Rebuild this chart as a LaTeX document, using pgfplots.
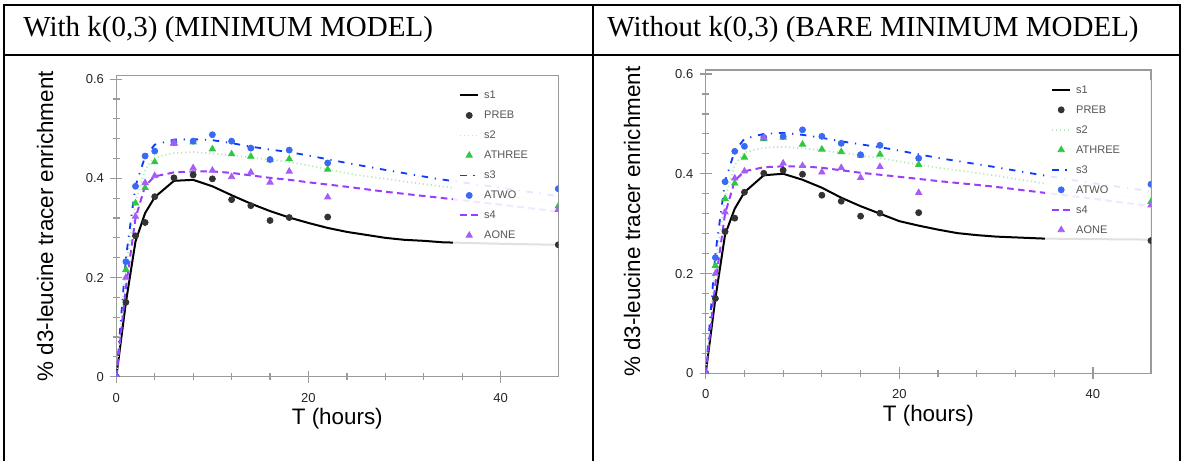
\documentclass[border=0pt]{standalone}
\usepackage{fontspec}
\setmainfont{Liberation Sans}
\newfontfamily\timesfont{Liberation Serif}
\usepackage{pgfplots}
\usepackage{pgfplotstable}
\pgfplotsset{compat=1.18}

\definecolor{axgray}{HTML}{9A9A9A}
\definecolor{prebc}{HTML}{333333}
\definecolor{s2c}{HTML}{B4ECB4}
\definecolor{athreec}{HTML}{2FC83F}
\definecolor{s3c}{HTML}{0A3AFF}
\definecolor{atwoc}{HTML}{3A6AF2}
\definecolor{s4c}{HTML}{9A3DFF}
\definecolor{aonec}{HTML}{A55EF5}
\definecolor{legtext}{HTML}{555555}

% measured points, same in both panels
\pgfplotstableread{
t  preb  atwo  athree aone
0  0     0     0      0
1  0.150 0.232 0.216  0.200
2  0.284 0.384 0.350  0.323
3  0.311 0.445 0.381  0.391
4  0.363 0.455 0.433  0.405
6  0.401 0.473 0.470  0.472
8  0.407 0.475 0.473  0.421
10 0.399 0.488 0.459  0.416
12 0.357 0.475 0.449  0.403
14 0.345 0.461 0.444  0.412
16 0.315 0.438 0.437  0.392
18 0.321 0.457 0.439  0.414
22 0.322 0.431 0.418  0.362
46 0.266 0.379 0.344  0.337
}\obs

\pgfplotsset{
  shortline/.style={legend image code/.code={\draw[##1] (0pt,0pt) -- (9pt,0pt);}},
  shortmark/.style={legend image code/.code={\draw[##1,mark repeat=2,mark phase=2] plot coordinates {(0pt,0pt) (4.5pt,0pt) (9pt,0pt)};}},
  s1/.style={black, line width=1pt, shortline},
  s2/.style={s2c, line width=0.9pt, dash pattern=on 0.6pt off 1.4pt, shortline},
  s3/.style={s3c, line width=0.9pt, dash pattern=on 3.2pt off 3.4pt on 0.6pt off 3.4pt, shortline},
  s4/.style={s4c, line width=1pt, dash pattern=on 3.3pt off 2.2pt, shortline},
  preb/.style={only marks, mark=*, mark size=1.5pt, prebc, shortmark},
  athree/.style={only marks, mark=triangle*, mark size=1.8pt, athreec, shortmark},
  atwo/.style={only marks, mark=*, mark size=1.5pt, atwoc, shortmark},
  aone/.style={only marks, mark=triangle*, mark size=1.8pt, aonec, shortmark},
  enrich/.style={
    scale only axis, anchor=south west,
    xmin=0, xmax=46, ymin=0,
    xtick={0,20,40}, ytick={0,0.2,0.4,0.6},
    minor x tick num=4, minor y tick num=4,
    tick pos=left, tick align=center,
    major tick length=6pt, minor tick length=3.4pt,
    axis line style={axgray, line width=0.6pt},
    tick style={axgray, line width=0.6pt},
    /pgf/number format/assume math mode=true,
    ticklabel style={font=\fontsize{6.5}{7}\selectfont, text=black!85},
    yticklabel style={inner sep=0pt, xshift=-3pt},
    xticklabel style={inner sep=0pt, yshift=-5pt},
    label style={font=\fontsize{11.2}{13}\selectfont},
    xlabel={T (hours)},
    ylabel={\% d3-leucine tracer enrichment},
    clip marker paths=true,
    legend cell align=left,
    legend style={at={(axis description cs:0.775,0.954)}, anchor=north west,
      draw=none, fill=none, inner sep=0pt, text=legtext,
      font=\fontsize{5.5}{6}\selectfont, row sep=4.5pt,
      nodes={inner sep=0.5pt, text height=4pt, text depth=0.5pt},
      /tikz/every odd column/.append style={column sep=2pt}},
  },
}

\begin{document}
\begin{tikzpicture}
\useasboundingbox (0,0) rectangle (591pt,230.5pt);
\draw[line width=1pt] (1.75pt,0) -- (1.75pt,227.75pt) -- (590pt,227.75pt) -- (590pt,0);
\draw[line width=1pt] (296.5pt,0) -- (296.5pt,227.75pt);
\draw[line width=1pt] (1.75pt,203pt) -- (590pt,203pt);
\node[anchor=base west, inner sep=0pt, font=\timesfont\fontsize{14.5}{17}\selectfont]
  at (11.5pt,212.25pt) {With k(0,3) (MINIMUM MODEL)};
\node[anchor=base west, inner sep=0pt, font=\timesfont\fontsize{14.5}{17}\selectfont]
  at (303.5pt,212.25pt) {Without k(0,3) (BARE MINIMUM MODEL)};

% left panel
\begin{axis}[enrich, at={(58.15pt,42.15pt)}, width=221pt, height=150.5pt, ymax=0.607,
  xlabel style={at={(axis description cs:0.5,-0.138)}, anchor=center},
  ylabel style={at={(axis description cs:-0.161,0.5)}, anchor=center}]
\addplot[s1, forget plot] coordinates {(0,0)(1,0.15)(2,0.273)(3,0.33)(4,0.362)(6,0.395)(8,0.397)(10,0.384)(12,0.366)(14,0.349)(16,0.334)(18,0.321)(20,0.31)(22,0.3)(24,0.292)(26,0.286)(28,0.28)(30,0.276)(32,0.274)(34,0.271)(36,0.27)(40,0.268)(46,0.266)};
\addplot[s2, forget plot] coordinates {(0,0)(1,0.22)(2,0.35)(3,0.418)(4,0.442)(6,0.451)(8,0.453)(10,0.45)(12,0.446)(14,0.442)(16,0.438)(18,0.433)(20,0.426)(22,0.418)(25,0.407)(28,0.399)(31,0.391)(35,0.381)(40,0.367)(46,0.35)};
\addplot[s3, forget plot] coordinates {(0,0)(1,0.24)(2,0.385)(3,0.444)(4,0.468)(6,0.478)(8,0.479)(10,0.477)(12,0.471)(14,0.464)(16,0.458)(18,0.453)(20,0.446)(24,0.431)(28,0.417)(33.4,0.399)(40,0.381)(46,0.364)};
\addplot[s4, forget plot] coordinates {(0,0)(1,0.18)(2,0.32)(3,0.385)(4,0.404)(6,0.412)(8,0.414)(10,0.414)(12,0.411)(14,0.406)(16,0.401)(18,0.397)(20,0.392)(24,0.383)(28,0.373)(35,0.358)(40,0.347)(46,0.333)};
\fill[white, fill opacity=0.88] (rel axis cs:0.762,0.434) rectangle (rel axis cs:1,0.966);
\addplot[preb, forget plot] table[x=t, y=preb] {\obs};
\addplot[athree, forget plot] table[x=t, y=athree] {\obs};
\addplot[atwo, forget plot] table[x=t, y=atwo] {\obs};
\addplot[aone, forget plot] table[x=t, y=aone] {\obs};
\addlegendimage{s1}\addlegendentry{s1}
\addlegendimage{preb}\addlegendentry{PREB}
\addlegendimage{s2}\addlegendentry{s2}
\addlegendimage{athree}\addlegendentry{ATHREE}
\addlegendimage{s3}\addlegendentry{s3}
\addlegendimage{atwo}\addlegendentry{ATWO}
\addlegendimage{s4}\addlegendentry{s4}
\addlegendimage{aone}\addlegendentry{AONE}
\end{axis}

% right panel
\begin{axis}[enrich, at={(352.85pt,43.85pt)}, width=222.65pt, height=151.65pt, ymax=0.608,
  xlabel style={at={(axis description cs:0.5,-0.139)}, anchor=center},
  ylabel style={at={(axis description cs:-0.165,0.5)}, anchor=center}]
\addplot[s1, forget plot] coordinates {(0,0)(1,0.15)(2,0.278)(3,0.33)(4,0.363)(6,0.397)(8,0.4)(10,0.388)(12,0.372)(14,0.352)(16,0.335)(18,0.32)(20,0.305)(22,0.296)(24,0.288)(26,0.281)(28,0.277)(30,0.274)(35,0.27)(40,0.269)(46,0.268)};
\addplot[s2, forget plot] coordinates {(0,0)(1,0.22)(2,0.35)(3,0.418)(4,0.443)(6,0.452)(8,0.454)(10,0.451)(12,0.447)(14,0.442)(16,0.437)(19,0.428)(24,0.412)(29.4,0.398)(34.5,0.382)(40,0.365)(46,0.348)};
\addplot[s3, forget plot] coordinates {(0,0)(1,0.24)(2,0.385)(3,0.446)(4,0.47)(6,0.48)(8,0.482)(10,0.478)(12,0.472)(14,0.465)(16,0.459)(19,0.45)(24.2,0.431)(29.4,0.415)(34.5,0.398)(40,0.381)(46,0.365)};
\addplot[s4, forget plot] coordinates {(0,0)(1,0.18)(2,0.32)(3,0.386)(4,0.405)(6,0.413)(8,0.415)(10,0.415)(12,0.412)(14,0.407)(16,0.402)(19,0.396)(24.2,0.385)(29.4,0.375)(34.5,0.363)(40,0.35)(46,0.335)};
\fill[white, fill opacity=0.88] (rel axis cs:0.762,0.434) rectangle (rel axis cs:1,0.966);
\addplot[preb, forget plot] table[x=t, y=preb] {\obs};
\addplot[athree, forget plot] table[x=t, y=athree] {\obs};
\addplot[atwo, forget plot] table[x=t, y=atwo] {\obs};
\addplot[aone, forget plot] table[x=t, y=aone] {\obs};
\addlegendimage{s1}\addlegendentry{s1}
\addlegendimage{preb}\addlegendentry{PREB}
\addlegendimage{s2}\addlegendentry{s2}
\addlegendimage{athree}\addlegendentry{ATHREE}
\addlegendimage{s3}\addlegendentry{s3}
\addlegendimage{atwo}\addlegendentry{ATWO}
\addlegendimage{s4}\addlegendentry{s4}
\addlegendimage{aone}\addlegendentry{AONE}
\end{axis}
\end{tikzpicture}
\end{document}
